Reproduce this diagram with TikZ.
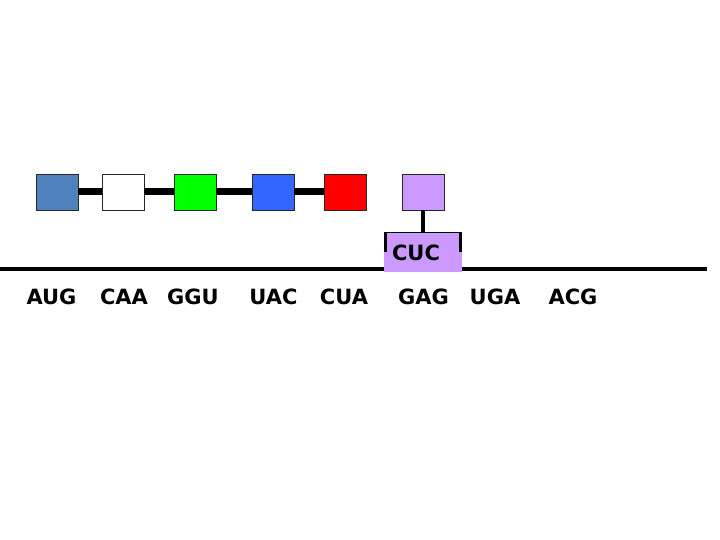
\documentclass[tikz,border=0pt]{standalone}
\usepackage{fontspec}
\setmainfont{DejaVu Sans}
\begin{document}
\begin{tikzpicture}[x=1pt,y=-1pt,
  aa/.style={draw=black!85,line width=0.8pt,minimum width=42pt,minimum height=36pt,inner sep=0pt},
  link/.style={line width=7pt,black},
  codon/.style={font=\fontsize{21}{24}\selectfont\bfseries,inner sep=0pt,anchor=base},
  strand/.style={line width=4pt,black}]
\useasboundingbox (0,0) rectangle (720,540);
\definecolor{steel}{RGB}{79,129,189}
\definecolor{grn}{RGB}{0,255,0}
\definecolor{blu}{RGB}{51,102,255}
\definecolor{rd}{RGB}{255,0,0}
\definecolor{lav}{RGB}{204,153,255}
% mRNA strand
\coordinate (L) at (0,269);
\coordinate (R) at (707,269);
\draw[strand] (L) -- (R);
% amino acid chain
\node[aa,fill=steel] (s1) at (57,192) {};
\node[aa,fill=white] (s2) at (123,192) {};
\node[aa,fill=grn] (s3) at (195,192) {};
\node[aa,fill=blu] (s4) at (273,192) {};
\node[aa,fill=rd] (s5) at (345,192) {};
\node[aa,fill=lav] (s6) at (423,192) {};
\draw[link] (s1.east) -- (s2.west);
\draw[link] (s2.east) -- (s3.west);
\draw[link] (s3.east) -- (s4.west);
\draw[link] (s4.east) -- (s5.west);
% tRNA with anticodon
\node[fill=lav,minimum width=78pt,minimum height=39pt,inner sep=0pt] (t) at (423,252.5) {};
\node[codon,anchor=center] (cuc) at (416,253) {CUC};
\draw[line width=4pt] (s6.south) -- (t.north);
\draw[line width=1pt] (t.north west) -- (t.north east);
\draw[line width=3pt] ([xshift=1.5pt]t.north west) -- ++(0,19);
\draw[line width=3pt] ([xshift=-1.5pt]t.north east) -- ++(0,19);
% codons
\node[codon] (c1) at (51.5,304) {AUG};
\node[codon] (c2) at (124,304) {CAA};
\node[codon] (c3) at (193,304) {GGU};
\node[codon] (c4) at (273.5,304) {UAC};
\node[codon] (c5) at (344,304) {CUA};
\node[codon] (c6) at (423.5,304) {GAG};
\node[codon] (c7) at (495,304) {UGA};
\node[codon] (c8) at (573,304) {ACG};
\end{tikzpicture}
\end{document}
